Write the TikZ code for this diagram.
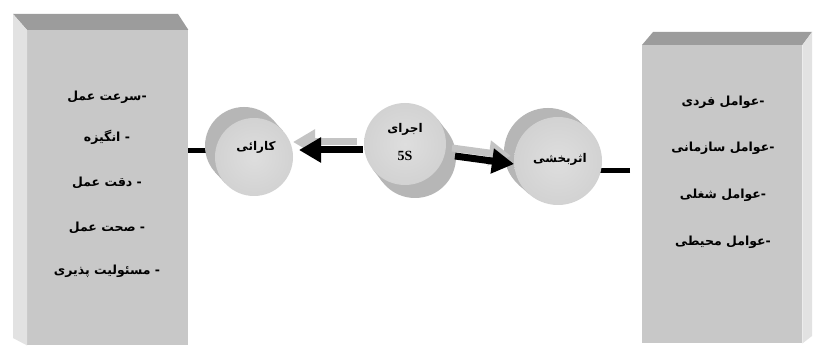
\documentclass[tikz,border=0pt]{standalone}
\usepackage{fontspec}
\newfontfamily\arabicfont[Script=Arabic]{DejaVu Sans}
\newfontfamily\latinserif{Liberation Serif}
\TeXXeTstate=1
\usetikzlibrary{calc,arrows.meta}
\definecolor{boxfront}{HTML}{C8C8C8}
\definecolor{boxtop}{HTML}{9C9C9C}
\definecolor{boxside}{HTML}{E2E2E2}
\definecolor{cylfront}{HTML}{D2D2D2}
\definecolor{cylfrontin}{HTML}{DEDEDE}
\definecolor{cylside}{HTML}{B6B6B6}
\definecolor{shadowarrow}{HTML}{C4C4C4}
\newcommand{\artxt}[1]{{\arabicfont\bfseries\beginR #1\endR}}
\tikzset{
  boxface/.style={rectangle, fill=boxfront, draw=none, inner sep=0pt},
  cylface/.style={circle, draw=none, inner sep=0pt, shading=radial, inner color=cylfrontin, outer color=cylfront},
  itemtext/.style={font=\fontsize{12.5}{15}\selectfont, inner sep=1pt},
  cyltext/.style={font=\fontsize{12}{14}\selectfont, inner sep=1pt},
  bigarrow/.style={line width=7pt, -{Triangle[length=22pt,width=24pt]}},
  connline/.style={line width=5pt, black}
}
\begin{document}
\begin{tikzpicture}[x=1pt,y=-1pt]
\useasboundingbox (0,0) rectangle (813,347);
\fill[white] (0,0) rectangle (813,347);

% ---------- left box ----------
\node[boxface, minimum width=161pt, minimum height=315pt, anchor=north west] (lbox) at (27,30) {};
\coordinate (lbt) at (13,14);
\coordinate (lbtr) at (178,14);
\coordinate (lbb) at (13,338);
\fill[boxtop] (lbt) -- (lbtr) -- (lbox.north east) -- (lbox.north west) -- cycle;
\fill[boxside] (lbt) -- (lbox.north west) -- (lbox.south west) -- (lbb) -- cycle;

% ---------- right box ----------
\node[boxface, minimum width=160pt, minimum height=298pt, anchor=north west] (rbox) at (642,45) {};
\coordinate (rbt) at (653,32);
\coordinate (rbtr) at (812,32);
\coordinate (rbb) at (812,336);
\fill[boxtop] (rbt) -- (rbtr) -- (rbox.north east) -- (rbox.north west) -- cycle;
\fill[boxside] (rbox.north east) -- (rbtr) -- (rbb) -- (rbox.south east) -- cycle;

% ---------- box texts ----------
\node[itemtext] (l1) at (107,97)  {\artxt{-سرعت عمل}};
\node[itemtext] (l2) at (107,137) {\artxt{- انگیزه}};
\node[itemtext] (l3) at (107,183) {\artxt{- دقت عمل}};
\node[itemtext] (l4) at (107,228) {\artxt{- صحت عمل}};
\node[itemtext] (l5) at (107,271) {\artxt{- مسئولیت پذیری}};

\node[itemtext] (r1) at (723,102) {\artxt{-عوامل فردی}};
\node[itemtext] (r2) at (723,148) {\artxt{-عوامل سازمانی}};
\node[itemtext] (r3) at (723,195) {\artxt{-عوامل شغلی}};
\node[itemtext] (r4) at (723,242) {\artxt{-عوامل محیطی}};

% ---------- cylinder centres ----------
\coordinate (kF) at (254,157); \coordinate (kB) at (244,146);
\coordinate (mF) at (405,144); \coordinate (mB) at (415,157);
\coordinate (aF) at (558,161); \coordinate (aB) at (548,152);

% ---------- connectors ----------
\coordinate (rc) at (630,171);
\draw[connline] (lbox.east |- 0,151) -- (kF |- 0,151);
\draw[connline] (rc) -- (aF |- rc);

% ---------- left cylinder ----------
\fill[cylside] (kB) circle[radius=39];
\fill[cylside] ($(kF)!39pt!90:(kB)$) -- ($(kB)!39pt!-90:(kF)$) -- ($(kB)!39pt!90:(kF)$) -- ($(kF)!39pt!-90:(kB)$) -- cycle;
\node[cylface, minimum size=78pt] (kar) at (kF) {};
\node[cyltext] (karT) at (256,147) {\artxt{کارائی}};

% ---------- middle cylinder ----------
\fill[cylside] (mB) circle[radius=41];
\fill[cylside] ($(mF)!41pt!90:(mB)$) -- ($(mB)!41pt!-90:(mF)$) -- ($(mB)!41pt!90:(mF)$) -- ($(mF)!41pt!-90:(mB)$) -- cycle;
\node[cylface, minimum size=82pt] (mid) at (mF) {};
\node[cyltext] (midT1) at (405,129) {\artxt{اجرای}};
\node[font=\latinserif\bfseries\fontsize{14}{16}\selectfont, inner sep=1pt] (midT2) at (405,156) {5S};

% ---------- right cylinder ----------
\fill[cylside] (aB) circle[radius=44];
\fill[cylside] ($(aF)!44pt!90:(aB)$) -- ($(aB)!44pt!-90:(aF)$) -- ($(aB)!44pt!90:(aF)$) -- ($(aF)!44pt!-90:(aB)$) -- cycle;
\node[cylface, minimum size=88pt] (ath) at (aF) {};
\node[cyltext] (athT) at (560,159) {\artxt{اثربخشی}};

% ---------- arrows ----------
\coordinate (a1s) at (363,150); \coordinate (a1e) at (299,150);
\coordinate (a2s) at (455,156); \coordinate (a2e) at (514,164);
\draw[bigarrow, shadowarrow] ($(a1s)+(-6,-8)$) -- ($(a1e)+(-6,-8)$);
\draw[bigarrow, shadowarrow] ($(a2s)+(-3,-8)$) -- ($(a2e)+(-3,-8)$);
\draw[bigarrow] (a1s) -- (a1e);
\draw[bigarrow] (a2s) -- (a2e);
\end{tikzpicture}
\end{document}
